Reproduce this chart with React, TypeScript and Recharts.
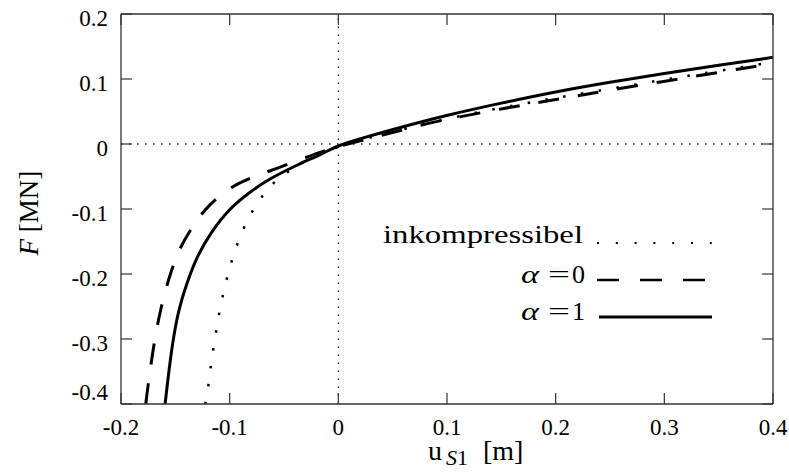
import React from 'react';
import { LineChart, Line, XAxis, YAxis, ReferenceLine } from 'recharts';

const xTicks = [-0.2, -0.1, 0, 0.1, 0.2, 0.3, 0.4];
const yTicks = [-0.4, -0.3, -0.2, -0.1, 0, 0.1, 0.2];

const legendLabels = ['inkompressibel', '0', '1'];

const inkompressibel = [
  { u: -0.1225, F: -0.4 }, { u: -0.1204, F: -0.3836 }, { u: -0.1186, F: -0.357 },
  { u: -0.1164, F: -0.3297 }, { u: -0.114, F: -0.3026 }, { u: -0.1112, F: -0.2759 },
  { u: -0.1085, F: -0.2492 }, { u: -0.1048, F: -0.222 }, { u: -0.1011, F: -0.1964 },
  { u: -0.0965, F: -0.1708 }, { u: -0.0912, F: -0.1451 }, { u: -0.0845, F: -0.1195 },
  { u: -0.0768, F: -0.0964 }, { u: -0.0673, F: -0.0733 }, { u: -0.0565, F: -0.0544 },
  { u: -0.04, F: -0.035 }, { u: -0.02, F: -0.017 }, { u: 0, F: -0.004 },
  { u: 0.02, F: 0.006 }, { u: 0.05, F: 0.019 }, { u: 0.1, F: 0.039 },
  { u: 0.15, F: 0.056 }, { u: 0.2, F: 0.071 }, { u: 0.25, F: 0.085 },
  { u: 0.3, F: 0.099 }, { u: 0.35, F: 0.1125 }, { u: 0.4, F: 0.126 },
];

const alpha0 = [
  { u: -0.1772, F: -0.4 }, { u: -0.1757, F: -0.3785 }, { u: -0.1702, F: -0.3118 },
  { u: -0.164, F: -0.2554 }, { u: -0.1548, F: -0.199 }, { u: -0.1456, F: -0.158 },
  { u: -0.1333, F: -0.1246 }, { u: -0.121, F: -0.0964 }, { u: -0.0995, F: -0.0657 },
  { u: -0.078, F: -0.0503 }, { u: -0.0565, F: -0.0374 }, { u: -0.032, F: -0.022 },
  { u: -0.012, F: -0.01 }, { u: 0, F: -0.004 }, { u: 0.02, F: 0.005 },
  { u: 0.0418, F: 0.0138 }, { u: 0.0787, F: 0.0308 }, { u: 0.109, F: 0.041 },
  { u: 0.1524, F: 0.0549 }, { u: 0.1877, F: 0.065 }, { u: 0.2246, F: 0.0754 },
  { u: 0.26, F: 0.0857 }, { u: 0.298, F: 0.0959 }, { u: 0.335, F: 0.106 },
  { u: 0.372, F: 0.1164 }, { u: 0.4, F: 0.1235 },
];

const alpha1 = [
  { u: -0.1594, F: -0.4 }, { u: -0.1573, F: -0.368 }, { u: -0.1527, F: -0.3066 },
  { u: -0.1472, F: -0.2554 }, { u: -0.1395, F: -0.2143 }, { u: -0.1302, F: -0.1733 },
  { u: -0.118, F: -0.1374 }, { u: -0.1002, F: -0.099 }, { u: -0.0811, F: -0.0733 },
  { u: -0.0627, F: -0.0528 }, { u: -0.0381, F: -0.0323 }, { u: -0.0135, F: -0.014 },
  { u: 0, F: -0.002 }, { u: 0.02, F: 0.008 }, { u: 0.048, F: 0.0215 },
  { u: 0.1, F: 0.0446 }, { u: 0.15, F: 0.063 }, { u: 0.2, F: 0.0805 },
  { u: 0.25, F: 0.095 }, { u: 0.3, F: 0.1087 }, { u: 0.35, F: 0.121 },
  { u: 0.4, F: 0.1333 },
];

const FONT = 'Liberation Serif';
const AX = '#333';
const TICK = 11;
const fmt = (v: number) => (v === 0 ? '0' : v.toFixed(1));

const BottomTick = (p: any) => (
  <g>
    <line x1={p.x} x2={p.x} y1={p.y} y2={p.y - TICK} stroke={AX} strokeWidth={1.2} />
    <text x={p.x} y={p.y + 31} textAnchor="middle" fontFamily={FONT} fontSize={23} fill="#000">
      {fmt(p.payload.value)}
    </text>
  </g>
);
const TopTick = (p: any) => (
  <line x1={p.x} x2={p.x} y1={p.y} y2={p.y + TICK} stroke={AX} strokeWidth={1.2} />
);
const LeftTick = (p: any) => {
  const v = p.payload.value;
  const dy = v === -0.4 ? -4 : 12;
  return (
    <g>
      <line x1={p.x} x2={p.x + TICK} y1={p.y} y2={p.y} stroke={AX} strokeWidth={1.2} />
      <text x={p.x - 13} y={p.y + dy} textAnchor="end" fontFamily={FONT} fontSize={23} fill="#000">
        {fmt(v)}
      </text>
    </g>
  );
};
const RightTick = (p: any) => (
  <line x1={p.x} x2={p.x - TICK} y1={p.y} y2={p.y} stroke={AX} strokeWidth={1.2} />
);

export default function App() {
  const axisLine = { stroke: AX, strokeWidth: 1.3 };
  return (
    <div style={{ position: 'absolute', left: 0, top: 0, width: 789, height: 475, background: '#fff' }}>
      <LineChart width={789} height={475} margin={{ top: 12, right: 14, left: 21, bottom: 11 }}>
        <XAxis xAxisId={0} dataKey="u" type="number" domain={[-0.2, 0.4]} ticks={xTicks}
          allowDataOverflow interval={0} height={60} tickSize={0} tickMargin={0}
          tickLine={false} axisLine={axisLine} tick={<BottomTick />} />
        <XAxis xAxisId="top" orientation="top" dataKey="u" type="number" domain={[-0.2, 0.4]}
          ticks={xTicks} allowDataOverflow interval={0} height={2} tickSize={0} tickMargin={0}
          tickLine={false} axisLine={axisLine} tick={<TopTick />} />
        <YAxis yAxisId={0} type="number" domain={[-0.4, 0.2]} ticks={yTicks} allowDataOverflow
          interval={0} width={100} tickSize={0} tickMargin={0} tickLine={false}
          axisLine={axisLine} tick={<LeftTick />} />
        <YAxis yAxisId="right" orientation="right" type="number" domain={[-0.4, 0.2]} ticks={yTicks}
          allowDataOverflow interval={0} width={2} tickSize={0} tickMargin={0} tickLine={false}
          axisLine={axisLine} tick={<RightTick />} />
        <ReferenceLine x={0} stroke="#222" strokeWidth={1.3} strokeDasharray="1.5 6.5" />
        <ReferenceLine y={0} stroke="#222" strokeWidth={1.3} strokeDasharray="1.5 6.5" />
        <Line data={alpha0} dataKey="F" type="basis" stroke="#000" strokeWidth={3}
          strokeDasharray="21 19" dot={false} activeDot={false} isAnimationActive={false} />
        <Line data={inkompressibel} dataKey="F" type="basis" stroke="#000" strokeWidth={2.5}
          strokeDasharray="2.5 15.5" dot={false} activeDot={false} isAnimationActive={false} />
        <Line data={alpha1} dataKey="F" type="basis" stroke="#000" strokeWidth={3}
          dot={false} activeDot={false} isAnimationActive={false} />
      </LineChart>
      <svg width={789} height={475} style={{ position: 'absolute', left: 0, top: 0, pointerEvents: 'none' }}>
        <g transform="translate(38,213) rotate(-90)">
          <text x={0} y={0} textAnchor="middle" fontFamily={FONT} fontSize={27} fill="#000">
            <tspan fontStyle="italic">F</tspan>
            <tspan> [MN]</tspan>
          </text>
        </g>
        <text y={460} fontFamily={FONT} fontSize={28} fill="#000">
          <tspan x={428}>u</tspan>
          <tspan x={446} dy={5} fontSize={22} fontStyle="italic">S</tspan>
          <tspan fontSize={22}>1</tspan>
          <tspan x={483} dy={-5}>[m]</tspan>
        </text>
        <text x={383} y={243} fontFamily={FONT} fontSize={25} fill="#000" textLength={200}
          lengthAdjust="spacingAndGlyphs">{legendLabels[0]}</text>
        <line x1={597} x2={712} y1={243} y2={243} stroke="#000" strokeWidth={2.2} strokeDasharray="2 16.8" />
        <text x={521} y={283} fontFamily={FONT} fontSize={26} fontStyle="italic" fill="#000"
          textLength={18} lengthAdjust="spacingAndGlyphs">α</text>
        <text x={548} y={283} fontFamily={FONT} fontSize={26} fill="#000" textLength={22}
          lengthAdjust="spacingAndGlyphs">=</text>
        <text x={585} y={283} fontFamily={FONT} fontSize={26} textAnchor="end" fill="#000">{legendLabels[1]}</text>
        <line x1={597} x2={708} y1={280} y2={280} stroke="#000" strokeWidth={2.6} strokeDasharray="22 21" />
        <text x={521} y={320} fontFamily={FONT} fontSize={26} fontStyle="italic" fill="#000"
          textLength={18} lengthAdjust="spacingAndGlyphs">α</text>
        <text x={548} y={320} fontFamily={FONT} fontSize={26} fill="#000" textLength={22}
          lengthAdjust="spacingAndGlyphs">=</text>
        <text x={585} y={320} fontFamily={FONT} fontSize={26} textAnchor="end" fill="#000">{legendLabels[2]}</text>
        <line x1={599} x2={712} y1={317} y2={317} stroke="#000" strokeWidth={2.8} />
      </svg>
    </div>
  );
}
